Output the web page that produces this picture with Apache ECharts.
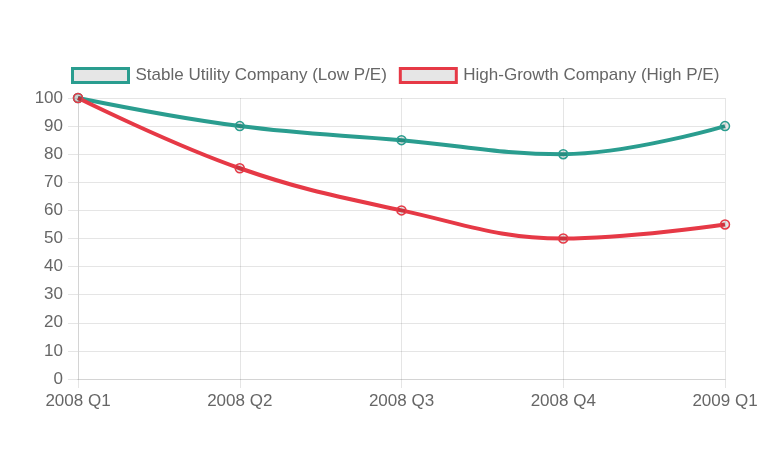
<!DOCTYPE html>
<html>
<head>
<meta charset="utf-8">
<script src="https://cdn.jsdelivr.net/npm/echarts@6/dist/echarts.min.js"></script>
<style>html,body{margin:0;padding:0;background:#fff;}#c{width:780px;height:470px;}</style>
</head>
<body>
<div id="c"></div>
<script>
const categories = ['2008 Q1', '2008 Q2', '2008 Q3', '2008 Q4', '2009 Q1'];
const stableUtility = [100, 90, 85, 80, 90];
const highGrowth = [100, 75, 60, 50, 55];
const seriesNames = ['Stable Utility Company (Low P/E)', 'High-Growth Company (High P/E)'];
const colors = ['#2a9d8f', '#e63946'];

const chart = echarts.init(document.getElementById('c'), null, {renderer: 'canvas'});
const font = 'Arial, "Liberation Sans", Helvetica, sans-serif';
const gridColor = 'rgba(0,0,0,0.1)';
const fillGray = 'rgba(0,0,0,0.1)';

function mkSeries(name, data, color) {
  return {
    name: name,
    type: 'line',
    data: data,
    smooth: 0.4,
    symbol: 'circle',
    symbolSize: 9,
    lineStyle: {color: color, width: 4},
    itemStyle: {color: fillGray, borderColor: color, borderWidth: 1.5},
    emphasis: {disabled: true}
  };
}

chart.setOption({
  animation: false,
  textStyle: {fontFamily: font},
  legend: {
    top: 62,
    left: 66,
    itemWidth: 56,
    itemHeight: 14,
    itemGap: 12,
    icon: 'rect',
    textStyle: {color: '#666', fontSize: 17, fontFamily: font, padding: [0, 0, 0, 2]},
    data: seriesNames.map((n, i) => ({
      name: n,
      icon: 'rect',
      itemStyle: {color: '#e6e6e6', borderColor: colors[i], borderWidth: 3},
      lineStyle: {opacity: 0}
    }))
  },
  grid: {left: 78, right: 55, top: 98, bottom: 91, containLabel: false},
  xAxis: {
    type: 'category',
    data: categories,
    boundaryGap: false,
    axisLine: {show: true, lineStyle: {color: '#d4d4d4', width: 1}},
    axisTick: {show: true, length: 9, lineStyle: {color: gridColor}},
    splitLine: {show: true, lineStyle: {color: gridColor}},
    axisLabel: {color: '#666', fontSize: 17, margin: 14, fontFamily: font}
  },
  yAxis: {
    type: 'value',
    min: 0,
    max: 100,
    interval: 10,
    axisLine: {show: true, lineStyle: {color: '#d4d4d4'}},
    axisTick: {show: true, length: 10, lineStyle: {color: gridColor}},
    splitLine: {show: true, lineStyle: {color: gridColor}},
    axisLabel: {color: '#666', fontSize: 17, margin: 15, fontFamily: font}
  },
  series: [
    mkSeries(seriesNames[0], stableUtility, colors[0]),
    mkSeries(seriesNames[1], highGrowth, colors[1])
  ]
});
</script>
</body>
</html>
